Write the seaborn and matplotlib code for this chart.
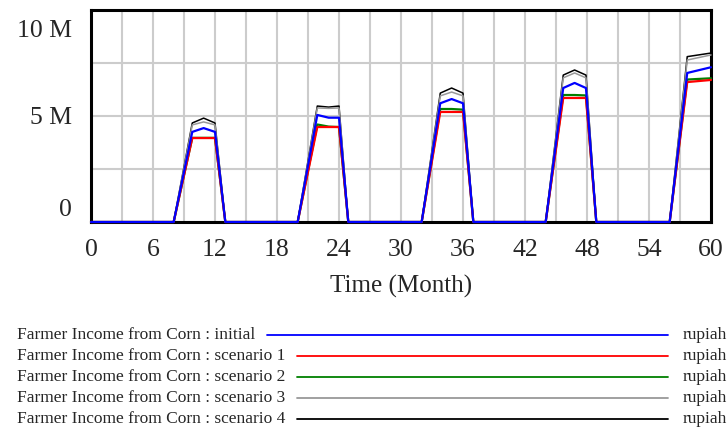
import numpy as np
import pandas as pd
import matplotlib
matplotlib.use("Agg")
import matplotlib.pyplot as plt
import matplotlib.transforms as mtransforms
from matplotlib.lines import Line2D
import seaborn as sns

# key points (month, income in million rupiah)
months = [0, 8, 9.8, 10.9, 12, 13,
          20, 21.9, 23.0, 24, 24.9,
          32, 33.8, 34.9, 36, 37,
          44, 45.7, 46.8, 47.9, 48.9,
          56, 57.7, 60]

initial = [0, 0, 4.25, 4.43, 4.25, 0,
           0, 5.05, 4.92, 4.92, 0,
           0, 5.6, 5.8, 5.6, 0,
           0, 6.32, 6.56, 6.32, 0,
           0, 7.03, 7.3]
scenario1 = [0, 0, 3.96, 3.96, 3.96, 0,
             0, 4.48, 4.48, 4.48, 0,
             0, 5.19, 5.19, 5.19, 0,
             0, 5.85, 5.85, 5.85, 0,
             0, 6.6, 6.7]
scenario2 = [0, 0, 3.97, 3.97, 3.97, 0,
             0, 4.6, 4.5, 4.48, 0,
             0, 5.33, 5.33, 5.3, 0,
             0, 5.99, 5.99, 5.97, 0,
             0, 6.72, 6.78]
scenario3 = [0, 0, 4.58, 4.72, 4.58, 0,
             0, 5.38, 5.36, 5.38, 0,
             0, 5.95, 6.13, 5.95, 0,
             0, 6.8, 7.03, 6.8, 0,
             0, 7.64, 7.88]
scenario4 = [0, 0, 4.67, 4.9, 4.67, 0,
             0, 5.47, 5.42, 5.47, 0,
             0, 6.08, 6.32, 6.08, 0,
             0, 6.93, 7.17, 6.93, 0,
             0, 7.8, 7.97]

run_names = ["initial", "scenario 1", "scenario 2", "scenario 3", "scenario 4"]
run_values = [initial, scenario1, scenario2, scenario3, scenario4]
run_colors = ["#0000ff", "#ff0000", "#008000", "#999999", "#000000"]
run_widths = [1.6, 1.6, 1.6, 1.1, 1.1]
label_prefix = "Farmer Income from Corn : "
unit = "rupiah"

x_ticks = list(range(0, 61, 6))
y_ticks = [0, 5e6, 10e6]
y_tick_labels = ["0", "5 M", "10 M"]

rows = []
for name, vals in zip(run_names, run_values):
    for t, v in zip(months, vals):
        rows.append({"Time": t, "Income": v * 1e6, "run": name})
df = pd.DataFrame(rows)

sns.set_style("white")
plt.rcParams['font.family'] = ['Liberation Serif', 'DejaVu Serif']

fig = plt.figure(figsize=(7.27, 4.29), dpi=100)
ax = fig.add_axes([91 / 727, 1 - 222 / 429, 620 / 727, 212 / 429])

# draw so that "initial" ends up on top
for name, col, lw in list(zip(run_names, run_colors, run_widths))[::-1]:
    sub = df[df["run"] == name]
    sns.lineplot(data=sub, x="Time", y="Income", color=col, linewidth=lw,
                 ax=ax, legend=False, clip_on=False, zorder=3)

ax.set_xlim(0, 60)
ax.set_ylim(0, 10e6)
ax.set_xticks(x_ticks)
ax.set_xticks(range(0, 61, 3), minor=True)
ax.set_yticks(y_ticks)
ax.set_yticklabels(y_tick_labels)
ax.set_yticks([2.5e6, 7.5e6], minor=True)
ax.grid(which="both", color="#cccccc", linewidth=1.5)
ax.set_axisbelow(True)
for s in ax.spines.values():
    s.set_color("black")
    s.set_linewidth(2.2)
    s.set_visible(True)
ax.tick_params(axis="both", which="both", length=0, labelsize=18.5)
ax.tick_params(axis="y", pad=14)
ax.tick_params(axis="x", pad=12)
ax.set_ylabel("")
ax.set_xlabel("Time (Month)", fontsize=18, labelpad=10)

# Vensim places the outer y labels inside the range
ylabs = ax.get_yticklabels()
shifts = [0.15, 0, -0.18]
for lab, dy in zip(ylabs, shifts):
    lab.set_transform(lab.get_transform() +
                      mtransforms.ScaledTranslation(0, dy, fig.dpi_scale_trans))

# legend block below the chart
fig.canvas.draw()
renderer = fig.canvas.get_renderer()
row_y = [335, 356, 377, 398, 419]
for name, col, y in zip(run_names, run_colors, row_y):
    yf = 1 - y / 429
    t = fig.text(17 / 727, yf, label_prefix + name, fontsize=12.5,
                 ha="left", va="center")
    x_end = t.get_window_extent(renderer).x1
    x0 = (x_end + 12) / 727
    fig.add_artist(Line2D([x0, 668 / 727], [yf, yf], color=col, linewidth=1.3))
    fig.text(683 / 727, yf, unit, fontsize=12.5, ha="left", va="center")

fig.savefig("out.png", dpi=100)
